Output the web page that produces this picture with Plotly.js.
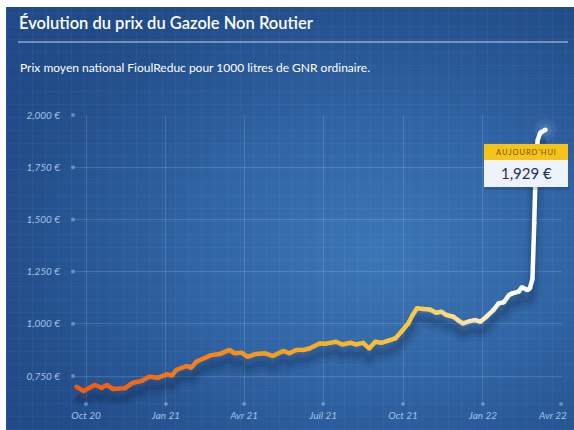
<!DOCTYPE html>
<html>
<head>
<meta charset="utf-8">
<script src="https://cdn.plot.ly/plotly-3.0.1.min.js"></script>
<style>
  html, body { margin:0; padding:0; background:#ffffff; width:574px; height:430px; overflow:hidden; }
  #bg { position:absolute; left:6px; top:7px; width:568px; height:423px;
        background:
          repeating-linear-gradient(0deg, rgba(255,255,255,0.035) 0px, rgba(255,255,255,0.035) 1px, transparent 1px, transparent 13px),
          repeating-linear-gradient(90deg, rgba(255,255,255,0.035) 0px, rgba(255,255,255,0.035) 1px, transparent 1px, transparent 13px),
          radial-gradient(ellipse 75% 70% at 66% 58%, #3c76b6 0%, #3064a4 45%, #25518f 80%, #204a88 100%); }
  #chart { position:absolute; left:0; top:0; width:574px; height:430px; }
</style>
</head>
<body>
<div id="bg"></div>
<div id="chart"></div>
<script>
// ---- data ----
const dates = [
  '2020-09-20','2020-09-28','2020-10-11','2020-10-19','2020-10-25','2020-11-01','2020-11-15','2020-11-24',
  '2020-12-04','2020-12-13','2020-12-23','2021-01-02','2021-01-08','2021-01-13','2021-01-25','2021-01-30',
  '2021-02-05','2021-02-22','2021-03-04','2021-03-15','2021-03-21','2021-03-29','2021-04-05','2021-04-13',
  '2021-04-25','2021-05-04','2021-05-16','2021-05-23','2021-05-31','2021-06-09','2021-06-15','2021-06-27',
  '2021-07-04','2021-07-16','2021-07-23','2021-08-02','2021-08-08','2021-08-16','2021-08-23','2021-08-30',
  '2021-09-06','2021-09-16','2021-09-22','2021-09-29','2021-10-07','2021-10-12','2021-10-17','2021-10-24',
  '2021-11-01','2021-11-08','2021-11-14','2021-11-20','2021-11-28','2021-12-03','2021-12-09','2021-12-17',
  '2021-12-23','2021-12-29','2022-01-05','2022-01-13','2022-01-19','2022-01-25','2022-01-31','2022-02-04',
  '2022-02-11','2022-02-15','2022-02-21','2022-02-24','2022-02-27','2022-03-01','2022-03-03','2022-03-05',
  '2022-03-08','2022-03-14'
];
const prices = [
  699, 678, 707, 694, 707, 688, 692, 718,
  726, 747, 742, 758, 753, 779, 798, 790,
  818, 850, 855, 875, 859, 862, 842, 854,
  859, 846, 870, 859, 875, 875, 882, 906,
  905, 914, 901, 909, 901, 909, 882, 914,
  909, 922, 930, 962, 1002, 1042, 1074, 1071,
  1069, 1053, 1058, 1042, 1034, 1018, 1002, 1013,
  1018, 1010, 1034, 1066, 1098, 1103, 1138, 1146,
  1154, 1175, 1162, 1170, 1215, 1480, 1780, 1880,
  1915, 1929
];
const xTickVals = ['2020-10-01','2021-01-01','2021-04-01','2021-07-01','2021-10-01','2022-01-01','2022-04-01'];
const xTickText = ['Oct 20','Jan 21','Avr 21','Juil 21','Oct 21','Jan 22','Avr 22'];
const yTickVals = [750, 1000, 1250, 1500, 1750, 2000];
const yTickText = ['0,750 €','1,000 €','1,250 €','1,500 €','1,750 €','2,000 €'];
const todayLabel = "A\u2009U\u2009J\u2009O\u2009U\u2009R\u2009D\u2009'\u2009H\u2009U\u2009I";
const todayValue = '1,929 €';

// ---- layout geometry ----
const W = 574, H = 430;
const M = {l:73, r:12, t:115, b:26};
const PW = W - M.l - M.r, PH = H - M.t - M.b;
const xp = px => (px - M.l) / PW;
const yp = py => (H - M.b - py) / PH;
const xRange = ['2020-09-16', '2022-04-02'];
const yRange = [616, 2000];
const shadowShift = 50;

// colour gradient along the line
const stops = [[0,'#ef5a13'],[0.15,'#f36c17'],[0.35,'#f7921c'],[0.55,'#f8b426'],[0.72,'#f9c84a'],[0.86,'#fde7b8'],[0.93,'#ffffff'],[1,'#ffffff']];
function hex(c){return [parseInt(c.slice(1,3),16),parseInt(c.slice(3,5),16),parseInt(c.slice(5,7),16)];}
function colorAt(t){
  for(let i=0;i<stops.length-1;i++){
    const [t0,c0]=stops[i],[t1,c1]=stops[i+1];
    if(t<=t1){
      const f=(t-t0)/(t1-t0||1), a=hex(c0), b=hex(c1);
      return 'rgb('+a.map((v,k)=>Math.round(v+(b[k]-v)*f)).join(',')+')';
    }
  }
  return stops[stops.length-1][1];
}
const t0 = new Date(dates[0]).getTime(), t1 = new Date(dates[dates.length-1]).getTime();
const tFrac = d => (new Date(d).getTime()-t0)/(t1-t0);

const traces = [];
// soft shadow (base axis y, shifted range -> drawn lower)
traces.push({x:dates, y:prices, yaxis:'y', mode:'lines', hoverinfo:'skip', showlegend:false,
  line:{color:'rgba(10,25,60,0.07)', width:18, shape:'spline', smoothing:0.6}});
traces.push({x:dates, y:prices, yaxis:'y', mode:'lines', hoverinfo:'skip', showlegend:false,
  line:{color:'rgba(10,25,60,0.10)', width:11, shape:'spline', smoothing:0.6}});
traces.push({x:dates, y:prices, yaxis:'y', mode:'lines', hoverinfo:'skip', showlegend:false,
  line:{color:'rgba(10,25,60,0.12)', width:5, shape:'spline', smoothing:0.6}});

// grid end dots
traces.push({x:yTickVals.map(()=>xRange[0]), y:yTickVals, yaxis:'y2', mode:'markers', cliponaxis:false,
  hoverinfo:'skip', showlegend:false, marker:{size:4, color:'rgba(170,195,230,0.5)'}});
traces.push({x:xTickVals, y:xTickVals.map(()=>yRange[0]), yaxis:'y2', mode:'markers', cliponaxis:false,
  hoverinfo:'skip', showlegend:false, marker:{size:4, color:'rgba(170,195,230,0.5)'}});

// glow at the end
traces.push({x:[dates[dates.length-1]], y:[prices[prices.length-1]], yaxis:'y2', mode:'markers', cliponaxis:false,
  hoverinfo:'skip', showlegend:false, marker:{size:22, color:'rgba(255,255,255,0.06)'}});
traces.push({x:[dates[dates.length-1]], y:[prices[prices.length-1]], yaxis:'y2', mode:'markers', cliponaxis:false,
  hoverinfo:'skip', showlegend:false, marker:{size:13, color:'rgba(255,255,255,0.08)'}});

// coloured line segments
for(let i=0;i<dates.length-1;i++){
  traces.push({x:[dates[i],dates[i+1]], y:[prices[i],prices[i+1]], yaxis:'y2', mode:'lines', cliponaxis:false,
    hoverinfo:'skip', showlegend:false,
    line:{color:colorAt((tFrac(dates[i])+tFrac(dates[i+1]))/2), width:4.5}});
}
// joints
traces.push({x:dates, y:prices, yaxis:'y2', mode:'markers', cliponaxis:false, hoverinfo:'skip', showlegend:false,
  marker:{size:4.5, color:dates.map(d=>colorAt(tFrac(d)))}});

const tickFont = {family:'Lato, "Open Sans", sans-serif', size:10, color:'#a7c0e2', style:'italic'};
const lastIdx = xTickText.length - 1;
// the last x label sits at the right edge: drawn as an annotation, shifted left so it stays inside the frame
const axisTickText = xTickText.map((t,i) => i === lastIdx ? '' : t);

const layout = {
  width:W, height:H,
  margin:M,
  paper_bgcolor:'rgba(0,0,0,0)', plot_bgcolor:'rgba(0,0,0,0)',
  showlegend:false,
  title:{text:'Évolution du prix du Gazole Non Routier', xref:'container', yref:'container',
    x:19/W, xanchor:'left', y:1-23/H, yanchor:'middle',
    font:{family:'Lato, "Open Sans", sans-serif', size:16.5, color:'#ffffff', weight:600}},
  xaxis:{type:'date', range:xRange, tickvals:xTickVals, ticktext:axisTickText, tickfont:tickFont,
    showgrid:true, gridcolor:'rgba(255,255,255,0.14)', gridwidth:1, zeroline:false, showline:false,
    ticks:'', ticklabelstandoff:4, fixedrange:true},
  yaxis:{range:[yRange[0]+shadowShift, yRange[1]+shadowShift], visible:false, showgrid:false, fixedrange:true},
  yaxis2:{overlaying:'y', anchor:'x', side:'left', range:yRange, tickvals:yTickVals, ticktext:yTickText,
    tickfont:tickFont, showgrid:true, gridcolor:'rgba(255,255,255,0.14)', gridwidth:1, zeroline:false,
    showline:false, ticks:'', ticklabelstandoff:12, fixedrange:true},
  shapes:[
    {type:'line', xref:'paper', yref:'paper', x0:xp(18), x1:xp(568), y0:yp(42), y1:yp(42),
      line:{color:'rgba(255,255,255,0.75)', width:1}},
    {type:'rect', xref:'paper', yref:'paper', x0:xp(485), x1:xp(569), y0:yp(190), y1:yp(186),
      fillcolor:'rgba(10,25,60,0.18)', line:{width:0}, layer:'above'},
    {type:'rect', xref:'paper', yref:'paper', x0:xp(484), x1:xp(568), y0:yp(187), y1:yp(160),
      fillcolor:'#eef3fa', line:{width:0}, layer:'above'},
    {type:'rect', xref:'paper', yref:'paper', x0:xp(484), x1:xp(568), y0:yp(160), y1:yp(144),
      fillcolor:'#f6c31b', line:{width:0}, layer:'above'}
  ],
  annotations:[
    {text:'Prix moyen national FioulReduc pour 1000 litres de GNR ordinaire.', xref:'paper', yref:'paper',
      x:xp(18), y:yp(68), xanchor:'left', yanchor:'middle', showarrow:false,
      font:{family:'Lato, "Open Sans", sans-serif', size:12, color:'#ffffff'}},
    {text:xTickText[lastIdx], xref:'x', yref:'paper', x:xTickVals[lastIdx], y:0, xanchor:'right', yanchor:'top',
      xshift:8, yshift:-3, showarrow:false, font:tickFont},
    {text:todayLabel, xref:'paper', yref:'paper', x:xp(526), y:yp(152), xanchor:'center', yanchor:'middle',
      showarrow:false, font:{family:'Lato, "Open Sans", sans-serif', size:7.5, color:'#6b560c'}},
    {text:todayValue, xref:'paper', yref:'paper', x:xp(526), y:yp(173), xanchor:'center', yanchor:'middle',
      showarrow:false, font:{family:'Lato, "Open Sans", sans-serif', size:15, color:'#1d2f5c'}}
  ]
};

Plotly.newPlot('chart', traces, layout, {displayModeBar:false, staticPlot:true});
</script>
</body>
</html>
